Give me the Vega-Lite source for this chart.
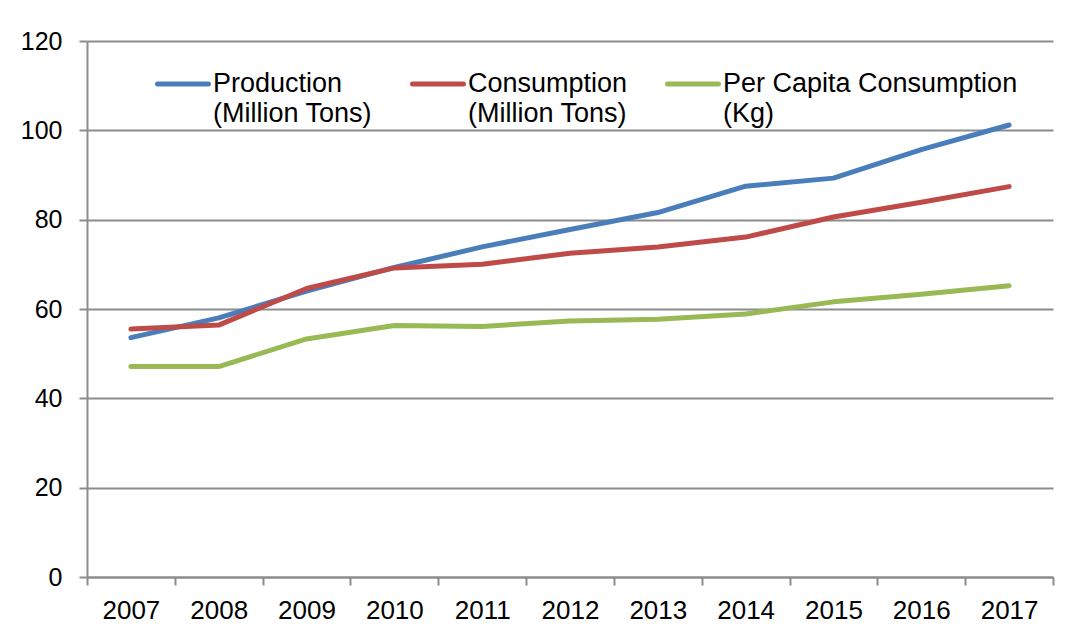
{
  "$schema": "https://vega.github.io/schema/vega-lite/v6.json",
  "width": 966,
  "height": 536,
  "autosize": {"type": "none"},
  "padding": {"left": 87, "top": 41, "right": 31, "bottom": 52},
  "background": "white",
  "config": {
    "font": "Liberation Sans",
    "view": {"stroke": null},
    "axis": {"labelFont": "Liberation Sans", "labelColor": "#000000"}
  },
  "data": {
    "values": [
      {"year": "2007", "series": "Production|(Million Tons)", "value": 53.6},
      {"year": "2008", "series": "Production|(Million Tons)", "value": 58.0},
      {"year": "2009", "series": "Production|(Million Tons)", "value": 64.0},
      {"year": "2010", "series": "Production|(Million Tons)", "value": 69.3},
      {"year": "2011", "series": "Production|(Million Tons)", "value": 73.9},
      {"year": "2012", "series": "Production|(Million Tons)", "value": 77.8},
      {"year": "2013", "series": "Production|(Million Tons)", "value": 81.6},
      {"year": "2014", "series": "Production|(Million Tons)", "value": 87.5},
      {"year": "2015", "series": "Production|(Million Tons)", "value": 89.3},
      {"year": "2016", "series": "Production|(Million Tons)", "value": 95.7},
      {"year": "2017", "series": "Production|(Million Tons)", "value": 101.2},
      {"year": "2007", "series": "Consumption|(Million Tons)", "value": 55.5},
      {"year": "2008", "series": "Consumption|(Million Tons)", "value": 56.4},
      {"year": "2009", "series": "Consumption|(Million Tons)", "value": 64.6},
      {"year": "2010", "series": "Consumption|(Million Tons)", "value": 69.2},
      {"year": "2011", "series": "Consumption|(Million Tons)", "value": 70.0},
      {"year": "2012", "series": "Consumption|(Million Tons)", "value": 72.5},
      {"year": "2013", "series": "Consumption|(Million Tons)", "value": 73.9},
      {"year": "2014", "series": "Consumption|(Million Tons)", "value": 76.1},
      {"year": "2015", "series": "Consumption|(Million Tons)", "value": 80.6},
      {"year": "2016", "series": "Consumption|(Million Tons)", "value": 83.9},
      {"year": "2017", "series": "Consumption|(Million Tons)", "value": 87.4},
      {"year": "2007", "series": "Per Capita Consumption|(Kg)", "value": 47.1},
      {"year": "2008", "series": "Per Capita Consumption|(Kg)", "value": 47.1},
      {"year": "2009", "series": "Per Capita Consumption|(Kg)", "value": 53.3},
      {"year": "2010", "series": "Per Capita Consumption|(Kg)", "value": 56.3},
      {"year": "2011", "series": "Per Capita Consumption|(Kg)", "value": 56.1},
      {"year": "2012", "series": "Per Capita Consumption|(Kg)", "value": 57.3},
      {"year": "2013", "series": "Per Capita Consumption|(Kg)", "value": 57.7},
      {"year": "2014", "series": "Per Capita Consumption|(Kg)", "value": 58.9},
      {"year": "2015", "series": "Per Capita Consumption|(Kg)", "value": 61.6},
      {"year": "2016", "series": "Per Capita Consumption|(Kg)", "value": 63.3},
      {"year": "2017", "series": "Per Capita Consumption|(Kg)", "value": 65.2}
    ]
  },
  "mark": {"type": "line", "strokeWidth": 5, "strokeCap": "round", "strokeJoin": "round"},
  "encoding": {
    "x": {
      "field": "year",
      "type": "ordinal",
      "scale": {"type": "band", "paddingInner": 0, "paddingOuter": 0},
      "axis": {
        "title": null,
        "labelAngle": 0,
        "labelFontSize": 26,
        "tickBand": "extent",
        "tickSize": 8,
        "tickWidth": 2,
        "tickColor": "#8c8c8c",
        "domainColor": "#8c8c8c",
        "domainWidth": 2,
        "labelPadding": 12,
        "labelBaseline": "top",
        "grid": false
      }
    },
    "y": {
      "field": "value",
      "type": "quantitative",
      "scale": {"domain": [0, 120], "nice": false},
      "axis": {
        "title": null,
        "labelFontSize": 25,
        "values": [0, 20, 40, 60, 80, 100, 120],
        "tickSize": 8,
        "tickWidth": 2,
        "tickColor": "#8c8c8c",
        "domainColor": "#8c8c8c",
        "domainWidth": 2,
        "gridColor": "#8c8c8c",
        "gridWidth": 2,
        "gridOpacity": 1,
        "labelPadding": 17
      }
    },
    "color": {
      "field": "series",
      "type": "nominal",
      "scale": {
        "domain": ["Production|(Million Tons)", "Consumption|(Million Tons)", "Per Capita Consumption|(Kg)"],
        "range": ["#4a7ebb", "#be4b48", "#98b954"]
      },
      "legend": {
        "title": null,
        "orient": "none",
        "legendX": 68,
        "legendY": 15,
        "direction": "horizontal",
        "columns": 3,
        "columnPadding": 29,
        "padding": 0,
        "symbolType": "stroke",
        "symbolSize": 2601,
        "symbolStrokeWidth": 5,
        "labelOffset": 2,
        "labelFont": "Liberation Sans",
        "labelFontSize": 27,
        "labelColor": "#000000",
        "labelLimit": 500,
        "labelExpr": "split(datum.label, '|')",
        "encode": {
          "labels": {"update": {"lineHeight": {"value": 30}}},
          "symbols": {"update": {"strokeCap": {"value": "round"}}}
        }
      }
    }
  }
}
